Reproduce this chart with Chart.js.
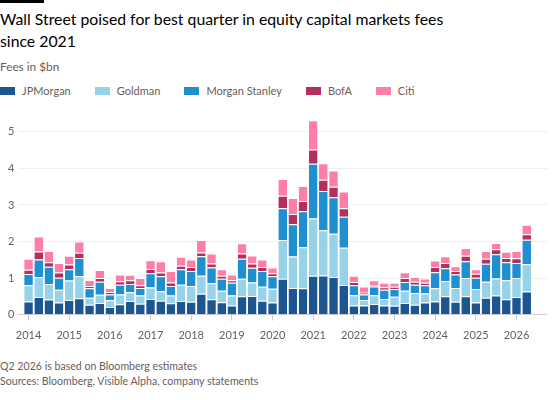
<!DOCTYPE html>
<html lang="en">
<head>
  <meta charset="UTF-8" />
  <title>ECM fees</title>
  <script src="https://cdn.jsdelivr.net/npm/chart.js"></script>
  <style>
    body {
      margin: 0;
      width: 560px;
      height: 400px;
      background: #fff;
      font-family: 'Lato', 'Open Sans', sans-serif;
      position: relative;
      overflow: hidden;
    }
    .topbar { position: absolute; left: 0; top: 0; width: 44px; height: 3px; background: #000; }
    .title {
      position: absolute; left: 0; top: 8px; width: 550px;
      font-size: 15.8px; line-height: 21.7px; color: #000;
    }
    .subtitle {
      position: absolute; left: 0; top: 59px;
      font-size: 11.8px; line-height: 15px; color: #66605c;
    }
    #legend {
      position: absolute; left: 0; top: 84px; height: 14px;
      display: flex; font-size: 11px; line-height: 14px; color: #66605c;
    }
    #legend .item { display: flex; align-items: center; margin-right: 24px; }
    #legend .sw { width: 15px; height: 8px; margin-right: 7px; }
    .chart-wrap { position: absolute; left: 0; top: 100px; width: 560px; height: 256px; }
    .notes {
      position: absolute; left: 0; top: 359px;
      font-size: 10.6px; line-height: 14.5px; color: #66605c;
    }
  </style>
</head>
<body>
  <div class="topbar"></div>
  <div class="title">Wall Street poised for best quarter in equity capital markets fees<br>since 2021</div>
  <div class="subtitle">Fees in $bn</div>
  <div id="legend"></div>
  <div class="chart-wrap"><canvas id="chart"></canvas></div>
  <div class="notes">Q2 2026 is based on Bloomberg estimates<br>Sources: Bloomberg, Visible Alpha, company statements</div>

  <script>
    // quarters from Q1 2014 to Q2 2026
    const quarters = [];
    for (let y = 2014; y <= 2026; y++) {
      for (let q = 1; q <= 4; q++) {
        if (y === 2026 && q > 2) break;
        quarters.push('Q' + q + ' ' + y);
      }
    }
    const years = [2014, 2015, 2016, 2017, 2018, 2019, 2020, 2021, 2022, 2023, 2024, 2025, 2026];

    const jpmorgan = [
      0.36, 0.48, 0.41, 0.33,  0.40, 0.45, 0.27, 0.32,  0.21, 0.28, 0.37, 0.30,
      0.43, 0.38, 0.31, 0.37,  0.35, 0.57, 0.42, 0.34,  0.25, 0.50, 0.51, 0.38,
      0.33, 0.98, 0.73, 0.72,  1.06, 1.07, 1.03, 0.81,  0.25, 0.25, 0.29, 0.25,
      0.24, 0.32, 0.27, 0.33,  0.36, 0.50, 0.35, 0.50,  0.33, 0.46, 0.52, 0.42,
      0.48, 0.63
    ];
    const goldman = [
      0.44, 0.54, 0.43, 0.35,  0.53, 0.60, 0.19, 0.22,  0.18, 0.27, 0.24, 0.22,
      0.31, 0.26, 0.21, 0.45,  0.43, 0.49, 0.44, 0.31,  0.27, 0.48, 0.37, 0.38,
      0.38, 1.06, 0.86, 1.12,  1.57, 1.24, 1.18, 1.02,  0.28, 0.15, 0.24, 0.18,
      0.25, 0.33, 0.32, 0.25,  0.36, 0.42, 0.38, 0.50,  0.37, 0.44, 0.47, 0.52,
      0.52, 0.75
    ];
    const morganStanley = [
      0.31, 0.49, 0.47, 0.33,  0.31, 0.50, 0.26, 0.36,  0.16, 0.27, 0.23, 0.21,
      0.39, 0.41, 0.26, 0.42,  0.41, 0.54, 0.43, 0.33,  0.35, 0.55, 0.40, 0.43,
      0.34, 0.87, 0.88, 0.99,  1.50, 1.07, 1.00, 0.85,  0.27, 0.15, 0.24, 0.25,
      0.21, 0.24, 0.23, 0.22,  0.44, 0.35, 0.37, 0.46,  0.31, 0.49, 0.66, 0.49,
      0.41, 0.67
    ];
    const bofa = [
      0.12, 0.22, 0.12, 0.14,  0.13, 0.14, 0.06, 0.10,  0.07, 0.09, 0.10, 0.07,
      0.12, 0.10, 0.10, 0.10,  0.11, 0.10, 0.11, 0.08,  0.07, 0.14, 0.12, 0.11,
      0.08, 0.34, 0.28, 0.28,  0.39, 0.31, 0.29, 0.23,  0.09, 0.05, 0.04, 0.07,
      0.06, 0.11, 0.08, 0.07,  0.14, 0.14, 0.09, 0.15,  0.11, 0.14, 0.14, 0.12,
      0.13, 0.15
    ];
    const citi = [
      0.30, 0.41, 0.31, 0.26,  0.24, 0.31, 0.17, 0.22,  0.11, 0.19, 0.15, 0.20,
      0.24, 0.31, 0.31, 0.24,  0.21, 0.34, 0.27, 0.18,  0.16, 0.28, 0.22, 0.21,
      0.16, 0.46, 0.44, 0.41,  0.80, 0.45, 0.44, 0.46,  0.17, 0.17, 0.13, 0.12,
      0.11, 0.16, 0.13, 0.12,  0.18, 0.19, 0.13, 0.21,  0.12, 0.21, 0.17, 0.17,
      0.20, 0.26
    ];

    const series = [
      { name: 'JPMorgan', values: jpmorgan, color: '#1d5590' },
      { name: 'Goldman', values: goldman, color: '#96d3e9' },
      { name: 'Morgan Stanley', values: morganStanley, color: '#1f8fd0' },
      { name: 'BofA', values: bofa, color: '#b3305d' },
      { name: 'Citi', values: citi, color: '#ff7ea8' }
    ];

    // html legend
    const legend = document.getElementById('legend');
    series.forEach(s => {
      legend.innerHTML += `<div class="item"><span class="sw" style="background:${s.color}"></span>${s.name}</div>`;
    });

    const tickColor = '#66605c';
    const font = { family: "'Lato', 'Open Sans', sans-serif", size: 11 };

    new Chart(document.getElementById('chart'), {
      type: 'bar',
      data: {
        datasets: series.map(s => ({
          label: s.name,
          data: s.values.map((v, i) => ({ x: i, y: v, q: quarters[i] })),
          backgroundColor: s.color,
          borderColor: '#fff',
          borderWidth: { top: 1, left: 0, right: 0, bottom: 0 },
          borderSkipped: false,
          categoryPercentage: 1,
          barPercentage: 0.85
        }))
      },
      options: {
        responsive: true,
        maintainAspectRatio: false,
        animation: false,
        layout: { padding: { left: 4, right: 13, top: 13.6, bottom: 5 } },
        plugins: { legend: { display: false }, tooltip: { enabled: false } },
        scales: {
          x: {
            type: 'linear',
            stacked: true,
            offset: false,
            min: -1,
            max: 51,
            afterBuildTicks: axis => { axis.ticks = years.map((y, i) => ({ value: i * 4 })); },
            ticks: {
              color: tickColor,
              font: font,
              padding: 8.6,
              maxRotation: 0,
              autoSkip: false,
              callback: v => years[v / 4]
            },
            grid: { offset: false, drawOnChartArea: false, drawTicks: true, tickLength: 6, color: '#cfcfcf' },
            border: { display: false }
          },
          y: {
            stacked: true,
            min: 0,
            max: 5.5,
            afterBuildTicks: axis => { axis.ticks = [0, 1, 2, 3, 4, 5].map(v => ({ value: v })); },
            ticks: { color: tickColor, font: font, padding: 4 },
            grid: {
              drawTicks: false,
              color: ctx => ctx.tick && ctx.tick.value === 0 ? '#cfcfcf' : '#efefef'
            },
            border: { display: false }
          }
        }
      }
    });
  </script>
</body>
</html>
